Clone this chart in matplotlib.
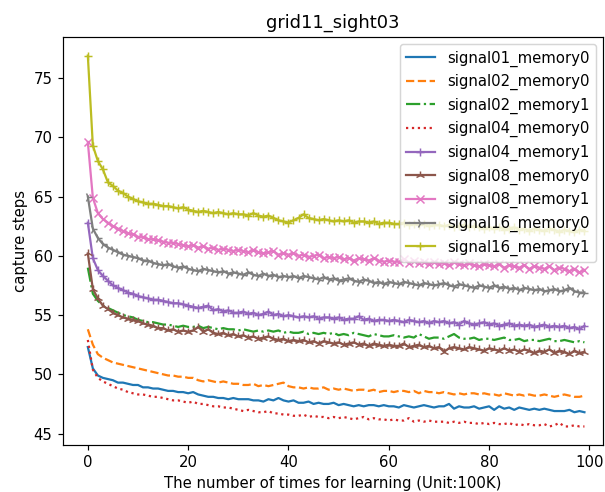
import numpy as np
import matplotlib
matplotlib.use("Agg")
import matplotlib.pyplot as plt

# capture steps per learning round (0..99)
s01_m0 = [52.3, 50.5, 49.9, 49.7, 49.6, 49.5, 49.3, 49.3, 49.2, 49.1,
          49.1, 48.9, 48.9, 48.8, 48.8, 48.7, 48.6, 48.6, 48.5, 48.5,
          48.4, 48.5, 48.3, 48.2, 48.1, 48.1, 48.0, 48.0, 47.9, 48.0,
          47.9, 47.9, 47.9, 47.8, 47.8, 47.7, 47.9, 47.8, 48.0, 47.8,
          47.7, 47.8, 47.6, 47.6, 47.7, 47.5, 47.6, 47.5, 47.5, 47.6,
          47.4, 47.5, 47.4, 47.3, 47.4, 47.3, 47.4, 47.4, 47.3, 47.4,
          47.3, 47.3, 47.2, 47.4, 47.3, 47.2, 47.3, 47.4, 47.3, 47.2,
          47.3, 47.3, 47.5, 47.1, 47.3, 47.2, 47.2, 47.3, 47.1, 47.2,
          47.3, 47.0, 47.3, 47.1, 47.2, 47.0, 47.2, 47.1, 47.0, 47.1,
          47.0, 47.1, 47.0, 46.9, 46.9, 46.9, 47.0, 46.8, 46.9, 46.8]
s02_m0 = [53.8, 52.5, 51.7, 51.4, 51.2, 51.0, 50.9, 50.8, 50.7, 50.6,
          50.5, 50.4, 50.3, 50.2, 50.1, 50.0, 49.9, 49.9, 49.8, 49.8,
          49.7, 49.7, 49.5, 49.4, 49.5, 49.4, 49.3, 49.4, 49.3, 49.2,
          49.2, 49.1, 49.1, 49.2, 49.0, 49.1, 49.0, 49.1, 49.2, 49.3,
          49.0, 48.9, 48.9, 48.8, 48.9, 48.8, 48.8, 48.9, 48.7, 48.8,
          48.7, 48.8, 48.7, 48.6, 48.7, 48.7, 48.6, 48.7, 48.5, 48.6,
          48.6, 48.5, 48.6, 48.6, 48.5, 48.6, 48.4, 48.6, 48.5, 48.5,
          48.4, 48.5, 48.4, 48.3, 48.4, 48.3, 48.4, 48.4, 48.3, 48.4,
          48.3, 48.3, 48.2, 48.4, 48.3, 48.2, 48.3, 48.2, 48.3, 48.2,
          48.2, 48.3, 48.2, 48.1, 48.2, 48.3, 48.2, 48.1, 48.1, 48.2]
s02_m1 = [59.0, 56.8, 56.2, 55.8, 55.6, 55.4, 55.2, 55.0, 54.9, 54.8,
          54.6, 54.5, 54.4, 54.4, 54.3, 54.2, 54.2, 54.1, 54.0, 54.1,
          54.0, 54.0, 54.1, 53.9, 54.0, 53.9, 53.8, 53.9, 53.8, 53.8,
          53.7, 53.8, 53.7, 53.6, 53.7, 53.6, 53.7, 53.6, 53.7, 53.5,
          53.6, 53.5, 53.5, 53.6, 53.4, 53.5, 53.4, 53.5, 53.4, 53.5,
          53.3, 53.4, 53.3, 53.5, 53.4, 53.3, 53.2, 53.4, 53.3, 53.2,
          53.2, 53.3, 53.2, 53.1, 53.2, 53.1, 53.4, 53.2, 53.0, 53.1,
          53.1, 53.0, 53.2, 53.4, 53.1, 53.0, 53.0, 53.1, 52.9, 53.0,
          53.0, 52.9, 53.0, 53.1, 52.9, 52.9, 53.0, 52.8, 52.9, 52.9,
          52.8, 52.9, 53.0, 52.8, 52.8, 52.9, 52.8, 52.7, 52.8, 52.7]
s04_m0 = [52.9, 50.4, 49.7, 49.4, 49.2, 49.0, 48.8, 48.7, 48.5, 48.4,
          48.3, 48.3, 48.2, 48.1, 48.1, 48.0, 47.9, 47.8, 47.8, 47.7,
          47.6, 47.7, 47.5, 47.5, 47.4, 47.3, 47.3, 47.2, 47.2, 47.1,
          47.0, 46.9, 47.0, 46.9, 46.8, 46.8, 46.9, 46.7, 46.7, 46.6,
          46.6, 46.5, 46.5, 46.6, 46.4, 46.5, 46.4, 46.4, 46.3, 46.4,
          46.3, 46.4, 46.3, 46.2, 46.3, 46.4, 46.2, 46.3, 46.2, 46.2,
          46.1, 46.2, 46.1, 46.1, 46.3, 46.0, 46.1, 46.0, 46.1, 46.0,
          46.0, 46.0, 45.9, 46.0, 45.9, 46.0, 45.9, 45.9, 45.8, 45.9,
          45.8, 45.9, 45.8, 45.8, 45.9, 45.7, 45.8, 45.7, 45.8, 45.7,
          45.7, 45.8, 45.6, 45.7, 45.9, 45.6, 45.6, 45.7, 45.6, 45.6]
s04_m1 = [62.8, 59.8, 58.8, 58.3, 57.9, 57.5, 57.3, 57.1, 56.9, 56.8,
          56.6, 56.5, 56.4, 56.3, 56.3, 56.2, 56.1, 56.0, 56.0, 55.9,
          55.8, 55.7, 55.6, 55.7, 55.8, 55.4, 55.5, 55.3, 55.4, 55.2,
          55.2, 55.3, 55.1, 55.2, 55.0, 55.1, 55.3, 55.0, 55.1, 54.9,
          55.0, 54.9, 54.8, 54.9, 54.8, 54.9, 54.7, 54.8, 54.8, 54.7,
          54.8, 54.6, 54.7, 54.7, 54.9, 54.6, 54.7, 54.5, 54.6, 54.6,
          54.5, 54.6, 54.5, 54.4, 54.6, 54.5, 54.4, 54.5, 54.3, 54.5,
          54.4, 54.5, 54.3, 54.4, 54.2, 54.5, 54.3, 54.2, 54.3, 54.4,
          54.2, 54.3, 54.1, 54.2, 54.3, 54.1, 54.2, 54.1, 54.2, 54.0,
          54.1, 54.2, 54.0, 54.1, 54.0, 54.1, 53.9, 54.0, 53.8, 54.1]
s08_m0 = [60.2, 57.2, 56.4, 55.8, 55.5, 55.2, 55.0, 54.8, 54.7, 54.6,
          54.5, 54.3, 54.2, 54.1, 53.9, 53.9, 53.7, 53.8, 53.6, 53.7,
          53.6, 53.7, 54.0, 53.6, 53.8, 53.5, 53.4, 53.5, 53.3, 53.4,
          53.2, 53.3, 53.1, 53.2, 53.0, 53.1, 53.2, 53.0, 52.9, 53.0,
          52.8, 52.9, 52.8, 52.9, 52.7, 52.8, 52.6, 52.8, 52.7, 52.6,
          52.7, 52.5, 52.6, 52.7, 52.5, 52.6, 52.4, 52.6, 52.5, 52.4,
          52.5, 52.4, 52.4, 52.6, 52.3, 52.4, 52.5, 52.3, 52.4, 52.2,
          52.3, 51.9, 52.2, 52.3, 52.2, 52.1, 52.3, 52.2, 52.1, 52.0,
          52.2, 52.1, 52.0, 52.2, 52.0, 52.1, 51.9, 52.1, 52.0, 51.8,
          52.0, 51.9, 52.1, 51.8, 52.0, 51.9, 51.7, 52.0, 51.8, 51.9]
s08_m1 = [69.6, 64.9, 63.6, 63.1, 62.8, 62.5, 62.3, 62.1, 61.9, 61.8,
          61.6, 61.6, 61.4, 61.4, 61.3, 61.2, 61.1, 61.1, 61.0, 60.9,
          60.8, 60.9, 60.7, 60.8, 60.6, 60.7, 60.5, 60.6, 60.5, 60.4,
          60.5, 60.4, 60.3, 60.5, 60.3, 60.2, 60.3, 60.4, 60.1, 60.2,
          60.1, 60.2, 60.0, 60.1, 59.9, 60.0, 60.1, 59.8, 59.9, 59.8,
          59.9, 59.7, 59.8, 59.6, 59.8, 59.7, 59.6, 59.8, 59.6, 59.5,
          59.6, 59.5, 59.5, 59.7, 59.4, 59.6, 59.4, 59.5, 59.3, 59.5,
          59.3, 59.4, 59.2, 59.5, 59.3, 59.2, 59.4, 59.2, 59.1, 59.3,
          59.2, 59.1, 59.3, 59.0, 59.2, 59.1, 59.0, 59.2, 58.9, 59.1,
          59.0, 58.9, 59.1, 58.8, 59.0, 58.9, 58.7, 58.9, 58.6, 58.8]
s16_m0 = [65.0, 62.3, 61.5, 61.0, 60.7, 60.5, 60.3, 60.1, 60.0, 59.9,
          59.8, 59.6, 59.6, 59.4, 59.3, 59.2, 59.3, 59.1, 59.0, 59.1,
          58.9, 58.8, 58.7, 58.9, 58.8, 58.7, 58.6, 58.7, 58.5, 58.6,
          58.5, 58.4, 58.6, 58.4, 58.3, 58.5, 58.3, 58.4, 58.2, 58.3,
          58.2, 58.3, 58.1, 58.3, 58.2, 58.1, 58.0, 58.2, 58.0, 58.1,
          57.9, 58.0, 58.1, 57.9, 57.8, 58.0, 57.9, 57.7, 57.8, 57.6,
          57.8, 57.7, 57.6, 57.8, 57.7, 57.6, 57.5, 57.7, 57.6, 57.5,
          57.6, 57.7, 57.5, 57.4, 57.6, 57.5, 57.4, 57.3, 57.5, 57.4,
          57.3, 57.5, 57.3, 57.4, 57.2, 57.3, 57.1, 57.3, 57.2, 57.1,
          57.2, 57.0, 57.1, 57.2, 57.0, 57.1, 57.3, 57.0, 56.9, 56.9]
s16_m1 = [76.9, 69.3, 68.0, 67.3, 66.2, 65.9, 65.5, 65.3, 65.0, 64.8,
          64.6, 64.5, 64.4, 64.4, 64.3, 64.2, 64.2, 64.1, 64.0, 64.1,
          63.9, 63.8, 63.7, 63.8, 63.7, 63.6, 63.7, 63.6, 63.5, 63.6,
          63.5, 63.5, 63.4, 63.6, 63.4, 63.3, 63.4, 63.2, 63.0, 62.9,
          62.8, 63.0, 63.2, 63.5, 63.2, 63.1, 63.0, 63.1, 63.0, 62.9,
          63.0, 62.9, 63.0, 62.8, 62.9, 62.9, 62.8, 62.9, 62.7, 62.8,
          62.8, 62.7, 62.7, 62.8, 62.6, 62.7, 62.6, 62.7, 62.5, 62.6,
          62.6, 62.5, 62.6, 62.4, 62.5, 62.6, 62.4, 62.5, 62.4, 62.3,
          62.4, 62.3, 62.4, 62.2, 62.3, 62.4, 62.2, 62.3, 62.1, 62.3,
          62.2, 62.1, 62.3, 62.2, 62.0, 62.2, 62.1, 62.0, 62.2, 62.1]

labels = ["signal01_memory0", "signal02_memory0", "signal02_memory1",
          "signal04_memory0", "signal04_memory1", "signal08_memory0",
          "signal08_memory1", "signal16_memory0", "signal16_memory1"]
series = [s01_m0, s02_m0, s02_m1, s04_m0, s04_m1, s08_m0, s08_m1, s16_m0, s16_m1]
styles = [("-", ""), ("--", ""), ("-.", ""), (":", ""), ("-", "+"),
          ("-", "2"), ("-", "x"), ("-", "4"), ("-", "+")]
colors = ["tab:blue", "tab:orange", "tab:green", "tab:red", "tab:purple",
          "tab:brown", "tab:pink", "tab:gray", "tab:olive"]

x = np.arange(len(s01_m0))

dpi = 107
fig = plt.figure(figsize=(605 / dpi, 492 / dpi), dpi=dpi)
ax = fig.add_axes([63 / 605, 1 - 445 / 492, 540 / 605, 408 / 492])

for y, lab, (ls, mk), c in zip(series, labels, styles, colors):
    ax.plot(x, y, linestyle=ls, marker=mk, color=c, label=lab)

ax.set_xlim(-4.95, 102.7)
ax.set_title("grid11_sight03")
ax.set_xlabel("The number of times for learning (Unit:100K)")
ax.set_ylabel("capture steps")
ax.legend(loc="upper right")

fig.savefig("out.png", dpi=dpi)
